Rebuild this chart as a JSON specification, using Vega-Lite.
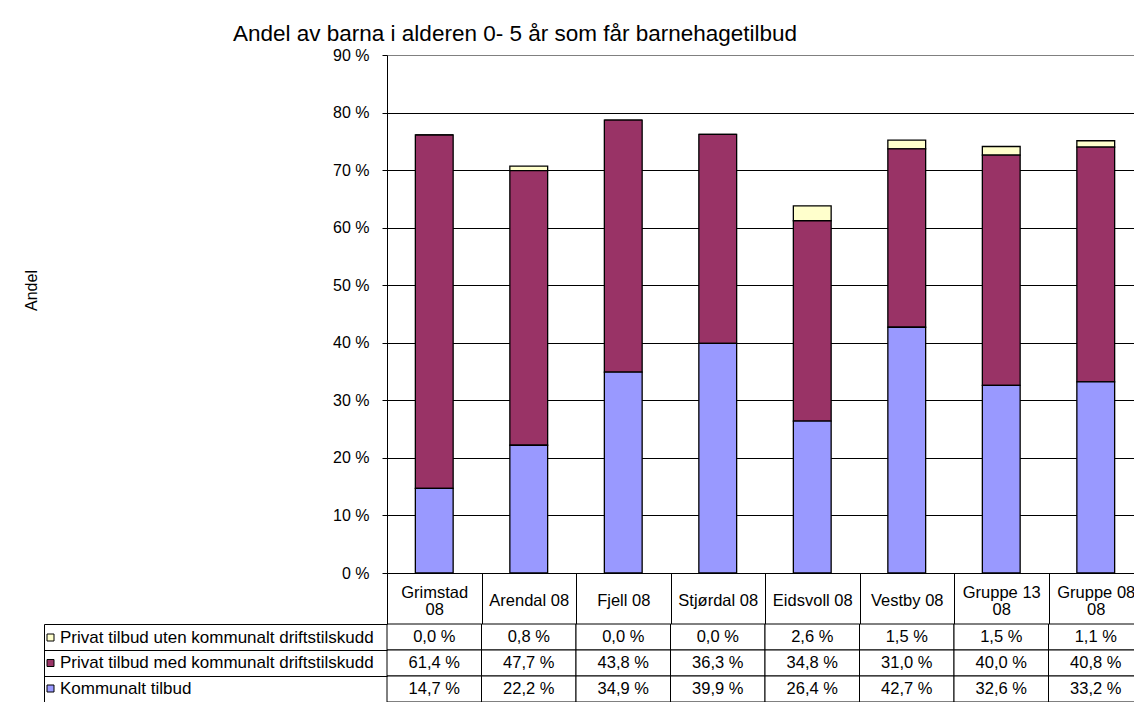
{
  "$schema": "https://vega.github.io/schema/vega-lite/v6.json",
  "padding": {"left": 23, "top": 22, "right": 0, "bottom": 0},
  "background": "white",
  "config": {
    "font": "Liberation Sans",
    "locale": {"number": {"decimal": ",", "thousands": " ", "grouping": [3], "currency": ["", " kr"], "percent": " %"}},
    "view": {"stroke": null},
    "axis": {"labelFont": "Liberation Sans", "titleFont": "Liberation Sans", "labelColor": "black", "titleColor": "black", "labelFontSize": 16, "titleFontSize": 16, "titleFontWeight": "normal"},
    "legend": {"labelFont": "Liberation Sans", "labelColor": "black", "labelFontSize": 17, "labelLimit": 500}
  },
  "title": {"text": "Andel av barna i alderen 0- 5 år som får barnehagetilbud", "fontSize": 22.5, "fontWeight": "normal", "font": "Liberation Sans", "color": "black", "anchor": "start", "frame": "group", "dx": -154, "offset": 2},
  "datasets": {
    "d": [
      {"kommune": "Grimstad 08", "serie": "Privat tilbud uten kommunalt driftstilskudd", "andel": 0.0},
      {"kommune": "Grimstad 08", "serie": "Privat tilbud med kommunalt driftstilskudd", "andel": 0.614},
      {"kommune": "Grimstad 08", "serie": "Kommunalt tilbud", "andel": 0.147},
      {"kommune": "Arendal 08", "serie": "Privat tilbud uten kommunalt driftstilskudd", "andel": 0.008},
      {"kommune": "Arendal 08", "serie": "Privat tilbud med kommunalt driftstilskudd", "andel": 0.477},
      {"kommune": "Arendal 08", "serie": "Kommunalt tilbud", "andel": 0.222},
      {"kommune": "Fjell 08", "serie": "Privat tilbud uten kommunalt driftstilskudd", "andel": 0.0},
      {"kommune": "Fjell 08", "serie": "Privat tilbud med kommunalt driftstilskudd", "andel": 0.438},
      {"kommune": "Fjell 08", "serie": "Kommunalt tilbud", "andel": 0.349},
      {"kommune": "Stjørdal 08", "serie": "Privat tilbud uten kommunalt driftstilskudd", "andel": 0.0},
      {"kommune": "Stjørdal 08", "serie": "Privat tilbud med kommunalt driftstilskudd", "andel": 0.363},
      {"kommune": "Stjørdal 08", "serie": "Kommunalt tilbud", "andel": 0.399},
      {"kommune": "Eidsvoll 08", "serie": "Privat tilbud uten kommunalt driftstilskudd", "andel": 0.026},
      {"kommune": "Eidsvoll 08", "serie": "Privat tilbud med kommunalt driftstilskudd", "andel": 0.348},
      {"kommune": "Eidsvoll 08", "serie": "Kommunalt tilbud", "andel": 0.264},
      {"kommune": "Vestby 08", "serie": "Privat tilbud uten kommunalt driftstilskudd", "andel": 0.015},
      {"kommune": "Vestby 08", "serie": "Privat tilbud med kommunalt driftstilskudd", "andel": 0.31},
      {"kommune": "Vestby 08", "serie": "Kommunalt tilbud", "andel": 0.427},
      {"kommune": "Gruppe 13 08", "serie": "Privat tilbud uten kommunalt driftstilskudd", "andel": 0.015},
      {"kommune": "Gruppe 13 08", "serie": "Privat tilbud med kommunalt driftstilskudd", "andel": 0.4},
      {"kommune": "Gruppe 13 08", "serie": "Kommunalt tilbud", "andel": 0.326},
      {"kommune": "Gruppe 08 08", "serie": "Privat tilbud uten kommunalt driftstilskudd", "andel": 0.011},
      {"kommune": "Gruppe 08 08", "serie": "Privat tilbud med kommunalt driftstilskudd", "andel": 0.408},
      {"kommune": "Gruppe 08 08", "serie": "Kommunalt tilbud", "andel": 0.332}
    ]
  },
  "data": {"name": "d"},
  "bounds": "flush",
  "spacing": 51,
  "resolve": {"scale": {"x": "independent", "y": "independent"}},
  "vconcat": [
    {
      "width": 756,
      "height": 518,
      "mark": {"type": "bar", "width": {"band": 0.4}, "stroke": "black", "strokeWidth": 1.3},
      "encoding": {
        "x": {
          "field": "kommune", "type": "nominal",
          "sort": ["Grimstad 08", "Arendal 08", "Fjell 08", "Stjørdal 08", "Eidsvoll 08", "Vestby 08", "Gruppe 13 08", "Gruppe 08 08"],
          "scale": {"paddingInner": 0, "paddingOuter": 0},
          "axis": {
            "title": null, "orient": "bottom", "domainColor": "black", "tickColor": "black", "tickSize": 51, "tickBand": "extent",
            "labelFontSize": 16.5,
            "labelPadding": {"condition": {"test": "datum.value == 'Grimstad 08' || datum.value == 'Gruppe 13 08' || datum.value == 'Gruppe 08 08'", "value": -31.5}, "value": -23.5},
            "labelBaseline": "middle", "labelAngle": 0, "labelLineHeight": 17, "labelOverlap": false,
            "labelExpr": "datum.label == 'Grimstad 08' ? ['Grimstad', '08'] : datum.label == 'Gruppe 13 08' ? ['Gruppe 13', '08'] : datum.label == 'Gruppe 08 08' ? ['Gruppe 08', '08'] : datum.label",
            "grid": false
          }
        },
        "y": {
          "field": "andel", "type": "quantitative", "stack": "zero",
          "scale": {"domain": [0, 0.9], "nice": false},
          "axis": {
            "values": [0, 0.1, 0.2, 0.3, 0.4, 0.5, 0.6, 0.7, 0.8, 0.9], "format": ".0%",
            "title": "Andel", "titleX": -356, "titleY": 235, "titleAngle": -90, "titleBaseline": "middle", "titleAlign": "center",
            "domainColor": "black", "tickColor": "black", "tickSize": 5, "labelPadding": 13,
            "grid": true, "gridWidth": 1,
            "gridColor": {"condition": {"test": "datum.value >= 0.89", "value": "#808080"}, "value": "black"}
          }
        },
        "color": {
          "field": "serie", "type": "nominal",
          "scale": {"domain": ["Privat tilbud uten kommunalt driftstilskudd", "Privat tilbud med kommunalt driftstilskudd", "Kommunalt tilbud"], "range": ["#FFFFCC", "#993366", "#9999FF"]},
          "legend": {"orient": "none", "legendX": -345, "legendY": 574, "title": null, "symbolType": "square", "symbolSize": 49, "symbolStrokeColor": "black", "symbolStrokeWidth": 1, "labelOffset": 1, "rowPadding": 7.5, "padding": 0}
        },
        "order": {"field": "serie", "sort": "ascending"}
      }
    },
    {
      "width": 756,
      "height": 78,
      "encoding": {
        "x": {
          "field": "kommune", "type": "nominal",
          "sort": ["Grimstad 08", "Arendal 08", "Fjell 08", "Stjørdal 08", "Eidsvoll 08", "Vestby 08", "Gruppe 13 08", "Gruppe 08 08"],
          "scale": {"paddingInner": 0, "paddingOuter": 0},
          "axis": null
        },
        "y": {
          "field": "serie", "type": "nominal",
          "sort": ["Privat tilbud uten kommunalt driftstilskudd", "Privat tilbud med kommunalt driftstilskudd", "Kommunalt tilbud"],
          "scale": {"paddingInner": 0, "paddingOuter": 0},
          "axis": {"orient": "left", "offset": 343, "domain": true, "domainColor": "black", "ticks": true, "tickBand": "extent", "tickSize": -343, "tickColor": "black", "labels": false, "title": null, "grid": false}
        }
      },
      "layer": [
        {"mark": {"type": "rect", "fill": "white", "stroke": "black", "strokeWidth": 1}},
        {"mark": {"type": "text", "fontSize": 16.5, "color": "black", "align": "center", "baseline": "middle"},
         "encoding": {"text": {"field": "andel", "type": "quantitative", "format": ".1%"}}}
      ]
    }
  ]
}
